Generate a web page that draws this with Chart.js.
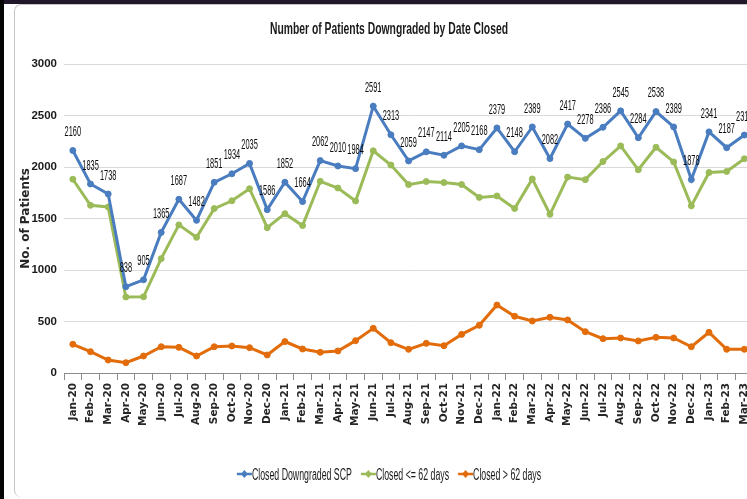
<!DOCTYPE html>
<html>
<head>
<meta charset="utf-8">
<title>Number of Patients Downgraded by Date Closed</title>
<script src="https://cdn.jsdelivr.net/npm/chart.js@4.4.1/dist/chart.umd.min.js"></script>
<style>
  html, body { margin: 0; padding: 0; background: #fff; overflow: hidden; width: 747px; height: 499px; }
  #topbar { position: absolute; left: 0; top: 0; width: 747px; height: 4px; background: #21172a; }
  #leftbar { position: absolute; left: 0; top: 0; width: 4px; height: 499px; background: #050505; }
  #frame { position: absolute; left: 14px; top: 4px; width: 800px; height: 492px;
           border-left: 1px solid #c4c4c4; border-top: 1px solid #c4c4c4; border-radius: 7px 0 0 7px; }
  #wrap { position: absolute; left: 0; top: 0; width: 760px; height: 499px; }
</style>
</head>
<body>
<div id="frame"></div>
<div id="topbar"></div>
<div id="leftbar"></div>
<div id="wrap"><canvas id="chart" width="760" height="499"></canvas></div>
<script>
// Month of closure
const months = [
  'Jan-20','Feb-20','Mar-20','Apr-20','May-20','Jun-20','Jul-20','Aug-20','Sep-20','Oct-20','Nov-20','Dec-20',
  'Jan-21','Feb-21','Mar-21','Apr-21','May-21','Jun-21','Jul-21','Aug-21','Sep-21','Oct-21','Nov-21','Dec-21',
  'Jan-22','Feb-22','Mar-22','Apr-22','May-22','Jun-22','Jul-22','Aug-22','Sep-22','Oct-22','Nov-22','Dec-22',
  'Jan-23','Feb-23','Mar-23'
];

// All downgraded patients closed in the month
const closedDowngraded = [
  2160, 1835, 1738, 838, 905, 1365, 1687, 1482, 1851, 1934, 2035, 1586,
  1852, 1664, 2062, 2010, 1984, 2591, 2313, 2059, 2147, 2114, 2205, 2168,
  2379, 2148, 2389, 2082, 2417, 2278, 2386, 2545, 2284, 2538, 2389, 1878,
  2341, 2187, 2310
];

// Closed within 62 days
const closedWithin62 = [
  1881, 1628, 1612, 738, 740, 1110, 1438, 1317, 1596, 1672, 1789, 1411,
  1547, 1431, 1861, 1796, 1670, 2157, 2019, 1829, 1859, 1849, 1830, 1705,
  1719, 1597, 1884, 1541, 1902, 1877, 2053, 2205, 1973, 2192, 2049, 1623,
  1946, 1957, 2080
];

// Closed after more than 62 days
const closedOver62 = [
  279, 207, 126, 100, 165, 255, 249, 165, 255, 262, 246, 175,
  305, 233, 201, 214, 314, 434, 294, 230, 288, 265, 375, 463,
  660, 551, 505, 541, 515, 401, 333, 340, 311, 346, 340, 255,
  395, 230, 230
];

const seriesNames = ['Closed Downgraded SCP', 'Closed <= 62 days', 'Closed > 62 days'];
const seriesColors = ['#4a7dbf', '#9bbb59', '#e36c0a'];

const narrow = '"Liberation Sans Narrow", "Liberation Sans", Arial, sans-serif';

// Chart heading, drawn condensed and centred over the plot
const headingPlugin = {
  id: 'heading',
  afterDraw(chart) {
    const ctx = chart.ctx;
    const text = 'Number of Patients Downgraded by Date Closed';
    ctx.save();
    ctx.font = 'bold 16px ' + narrow;
    const sx = 238 / ctx.measureText(text).width;
    ctx.fillStyle = '#1a1a1a';
    ctx.textAlign = 'center';
    ctx.textBaseline = 'alphabetic';
    ctx.translate(389, 34);
    ctx.scale(sx, 1);
    ctx.fillText(text, 0, 0);
    ctx.restore();
  }
};

// Value labels above the total series
const valueLabelPlugin = {
  id: 'valueLabels',
  afterDatasetsDraw(chart) {
    const ctx = chart.ctx;
    const meta = chart.getDatasetMeta(0);
    const values = chart.data.datasets[0].data;
    ctx.save();
    ctx.font = '15px ' + narrow;
    const sx = 16.5 / ctx.measureText('0000').width;
    ctx.fillStyle = '#0d0d0d';
    ctx.textAlign = 'center';
    ctx.textBaseline = 'middle';
    meta.data.forEach((pt, i) => {
      ctx.save();
      ctx.translate(pt.x, pt.y - 18.5);
      ctx.scale(sx, 1);
      ctx.fillText(String(values[i]), 0, 0);
      ctx.restore();
    });
    ctx.restore();
  }
};

// Legend row under the axis: line-and-marker swatch followed by the series name
const legendRowPlugin = {
  id: 'legendRow',
  afterDraw(chart) {
    const ctx = chart.ctx;
    const sets = chart.data.datasets;
    const swatch = 15, gap = 9;
    ctx.save();
    ctx.font = '16px ' + narrow;
    const textScale = 100 / ctx.measureText(sets[0].label).width;
    const widths = sets.map(ds => ctx.measureText(ds.label).width * textScale);
    const total = widths.reduce((a, w) => a + w + swatch, 0) + gap * (sets.length - 1);
    let x = 389 - total / 2;
    const yLine = 474, yText = 480;
    sets.forEach((ds, i) => {
      ctx.strokeStyle = ds.borderColor;
      ctx.lineWidth = 2.5;
      ctx.beginPath();
      ctx.moveTo(x, yLine);
      ctx.lineTo(x + swatch, yLine);
      ctx.stroke();
      ctx.fillStyle = ds.borderColor;
      ctx.beginPath();
      const cx = x + swatch / 2;
      ctx.moveTo(cx, yLine - 4);
      ctx.lineTo(cx + 3.5, yLine);
      ctx.lineTo(cx, yLine + 4);
      ctx.lineTo(cx - 3.5, yLine);
      ctx.closePath();
      ctx.fill();
      x += swatch;
      ctx.save();
      ctx.fillStyle = '#1a1a1a';
      ctx.textAlign = 'left';
      ctx.textBaseline = 'alphabetic';
      ctx.translate(x, yText);
      ctx.scale(textScale, 1);
      ctx.fillText(ds.label, 0, 0);
      ctx.restore();
      x += widths[i] + gap;
    });
    ctx.restore();
  }
};

function lineSet(label, data, color) {
  return {
    label, data,
    borderColor: color,
    backgroundColor: color,
    borderWidth: 3,
    pointRadius: 3,
    pointHoverRadius: 3,
    pointBorderWidth: 1,
    pointBackgroundColor: color,
    pointBorderColor: color,
    tension: 0
  };
}

new Chart(document.getElementById('chart'), {
  type: 'line',
  data: {
    labels: months,
    datasets: [
      lineSet(seriesNames[0], closedDowngraded, seriesColors[0]),
      lineSet(seriesNames[1], closedWithin62, seriesColors[1]),
      lineSet(seriesNames[2], closedOver62, seriesColors[2])
    ]
  },
  options: {
    responsive: false,
    animation: false,
    devicePixelRatio: 1,
    layout: { padding: { left: 19, right: 3, top: 64, bottom: 56 } },
    plugins: {
      legend: { display: false },
      title: { display: false },
      tooltip: { enabled: false }
    },
    scales: {
      x: {
        offset: true,
        afterFit(scale) { scale.height = 70; },
        grid: { offset: true, drawOnChartArea: false, drawTicks: true, tickLength: 7, color: '#8c8c8c' },
        border: { display: true, color: '#8c8c8c', width: 1 },
        ticks: {
          autoSkip: false, maxRotation: 90, minRotation: 90, padding: 3,
          color: '#262626',
          font: { family: '"DejaVu Sans", Verdana, sans-serif', size: 10.5, weight: 'bold' }
        }
      },
      y: {
        min: 0, max: 3000,
        afterFit(scale) { scale.width = 45; },
        grid: { color: '#d9d9d9', drawTicks: false, lineWidth: 1 },
        border: { display: false },
        ticks: {
          stepSize: 500, padding: 7, color: '#1a1a1a',
          font: { family: narrow, size: 11.5, weight: 'bold' },
          callback: (value) => String(value)
        },
        title: {
          display: true, text: 'No. of Patients', color: '#262626', padding: 0,
          font: { family: '"DejaVu Sans", Verdana, sans-serif', size: 12, weight: 'bold' }
        }
      }
    }
  },
  plugins: [valueLabelPlugin, headingPlugin, legendRowPlugin]
});
</script>
</body>
</html>
